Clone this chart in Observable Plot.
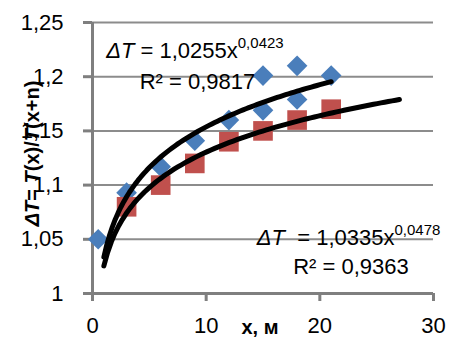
<!DOCTYPE html>
<html><head><meta charset="utf-8">
<script src="https://cdn.jsdelivr.net/npm/d3@7"></script>
<script src="https://cdn.jsdelivr.net/npm/@observablehq/plot@0.6"></script>
<style>
body{margin:0;background:#fff}
svg{font-family:"Liberation Sans",Arial,sans-serif}
</style>
</head><body><div id="chart"></div>
<script>
// ---- data ----
const xTicks = [0, 10, 20, 30];
const yTicks = [1, 1.05, 1.1, 1.15, 1.2, 1.25];
const blueX = [0.5, 3, 6, 9, 12, 15, 15, 18, 18, 21];
const blueY = [1.05, 1.093, 1.117, 1.141, 1.16, 1.169, 1.201, 1.179, 1.21, 1.201];
const redX = [3, 6, 9, 12, 15, 18, 21];
const redY = [1.08, 1.10, 1.12, 1.14, 1.15, 1.16, 1.17];
// power trendlines y = a * x^b (as printed on the chart)
const fitA = [1.0335, 1.0255];
const fitB = [0.0478, 0.0423];
const fitXmin = [1, 1];
const fitXmax = [21, 27];
// equation labels (as printed)
const eqCoef = ["1,0255", "1,0335"];
const eqExp = ["0,0423", "0,0478"];
const eqR2 = ["0,9817", "0,9363"];
const eqPosX = [1.25, 14.5];
const eqPosY = [1.2172, 1.0444];
const r2PosX = [4.2, 17.7];
const r2PosY = [1.1885, 1.0176];
const xTitle = "x, м";

const fmt = d => String(d).replace(".", ",");
const blue = blueX.map((x, i) => ({x, y: blueY[i]}));
const red = redX.map((x, i) => ({x, y: redY[i]}));
const fits = [];
fitA.forEach((a, k) => {
  const n = 80;
  for (let i = 0; i <= n; i++) {
    const x = fitXmin[k] + (fitXmax[k] - fitXmin[k]) * i / n;
    fits.push({k, x, y: a * Math.pow(x, fitB[k])});
  }
});

const axisColor = "#7f7f7f";
const gridColor = "#8c8c8c";
const chart = Plot.plot({
  width: 452, height: 342,
  marginLeft: 92, marginRight: 19, marginTop: 22, marginBottom: 49,
  x: {domain: [0, 30]},
  y: {domain: [1, 1.25]},
  marks: [
    Plot.gridY({ticks: yTicks.slice(1), stroke: gridColor, strokeOpacity: 1, strokeWidth: 2}),
    Plot.ruleX([0], {stroke: axisColor, strokeWidth: 3}),
    Plot.ruleY([1], {stroke: axisColor, strokeWidth: 3}),
    Plot.axisY({ticks: yTicks, tickSize: 9, tickPadding: 20, tickFormat: fmt, fontSize: 22, stroke: axisColor, strokeWidth: 3, label: null}),
    Plot.axisX({ticks: xTicks, tickSize: 8, tickPadding: 16, tickFormat: fmt, fontSize: 22, stroke: axisColor, strokeWidth: 3, label: null}),
    Plot.dot(blue, {x: "x", y: "y", symbol: "diamond2", r: 9.3, fill: "#4a7ebb"}),
    Plot.dot(red, {x: "x", y: "y", symbol: "square2", r: 12.5, fill: "#c0504d"}),
    Plot.line(fits, {x: "x", y: "y", z: "k", stroke: "#000", strokeWidth: 5, strokeLinecap: "round", strokeLinejoin: "round"})
  ]
});
document.getElementById("chart").appendChild(chart);

const svg = d3.select(chart);
const sx = chart.scale("x"), sy = chart.scale("y");
const gaps = [" ", "\u00A0 "];
eqCoef.forEach((c, i) => {
  const t = svg.append("text").attr("x", sx.apply(eqPosX[i])).attr("y", sy.apply(eqPosY[i]))
    .attr("text-anchor", "start").attr("font-size", 22).attr("fill", "#000");
  t.append("tspan").attr("font-style", "italic").text("ΔT");
  t.append("tspan").text(gaps[i] + "= " + c + "x");
  t.append("tspan").attr("font-size", 15).attr("dy", -10).text(eqExp[i]);
  svg.append("text").attr("x", sx.apply(r2PosX[i])).attr("y", sy.apply(r2PosY[i]))
    .attr("text-anchor", "start").attr("font-size", 22).attr("fill", "#000").text("R² = " + eqR2[i]);
});
// axis titles
const [y0, y1] = sy.range;
svg.append("text").attr("x", 260).attr("y", y0 + 41)
  .attr("font-size", 20).attr("font-weight", "bold").attr("text-anchor", "middle").attr("fill", "#000").text(xTitle);
const yt = svg.append("text").attr("transform", `translate(39,${(y0 + y1) / 2 - 4}) rotate(-90)`)
  .attr("font-size", 20).attr("font-weight", "bold").attr("text-anchor", "middle").attr("fill", "#000");
yt.append("tspan").attr("font-style", "italic").text("ΔT");
yt.append("tspan").text("= ");
yt.append("tspan").attr("font-style", "italic").text("T");
yt.append("tspan").text("(x)/");
yt.append("tspan").attr("font-style", "italic").text("T");
yt.append("tspan").text("(x+n)");
</script>
</body></html>
